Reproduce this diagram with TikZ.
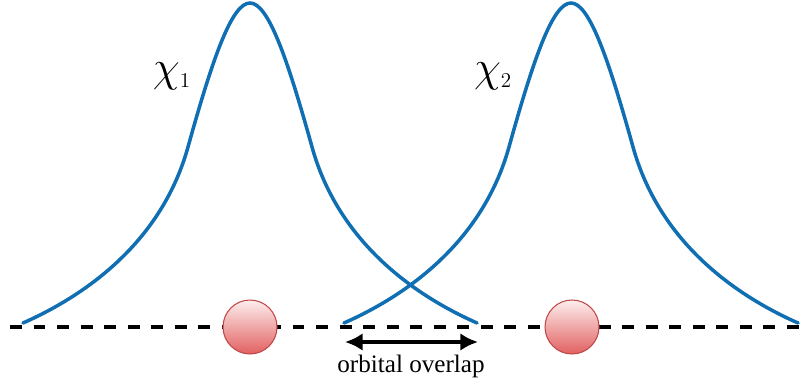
\documentclass[tikz,border=0pt]{standalone}
\usepackage{fontspec}
\setmainfont{Liberation Serif}
\usetikzlibrary{arrows.meta,positioning}
\definecolor{orbblue}{RGB}{16,110,178}
\definecolor{atomtop}{RGB}{253,238,238}
\definecolor{atombot}{RGB}{226,96,96}
\definecolor{atomline}{RGB}{192,72,72}

\begin{document}
\begin{tikzpicture}[x=0.02cm, y=0.02cm,
    orbital/.style={draw=orbblue, line width=2pt, line cap=round},
    atom/.style={circle, draw=atomline, line width=0.6pt, inner sep=0pt,
                 minimum size=1.08cm, top color=atomtop, bottom color=atombot},
    axisline/.style={line width=2.2pt, dash pattern=on 6.8pt off 6.6pt},
    chilabel/.style={font=\fontsize{25}{29}\selectfont}]
    \useasboundingbox (0,-58) rectangle (807,327);

    % axis through the two atoms
    \coordinate (axl) at (10,0);
    \coordinate (axr) at (807,0);
    \draw[axisline] (axl) -- (axr);

    % the two orbitals
    \foreach \c in {250,571}
        \draw[orbital, shift={(\c,0)}] (-227,4)
            .. controls (-157,35) and (-87,90) .. (-62,180)
            .. controls (-37,270) and (-18,324) .. (0,324)
            .. controls (18,324) and (37,270) .. (62,180)
            .. controls (87,90) and (157,35) .. (227,4);

    \node (chi1) [chilabel] at (172,251) {$\chi_{\scriptscriptstyle 1}$};
    \node (chi2) [chilabel] at (493,251) {$\chi_{\scriptscriptstyle 2}$};

    \node (atom1) [atom] at (250,0) {};
    \node (atom2) [atom] at (572,0) {};

    % overlap arrow
    \coordinate (ovl) at (345,-15);
    \coordinate (ovr) at (478,-15);
    \draw[{Latex[length=10pt,width=10pt]}-{Latex[length=10pt,width=10pt]}, line width=2.2pt] (ovl) -- (ovr);
    \node (ovtext) [font=\fontsize{14.3}{17}\selectfont] at (411,-39) {orbital overlap};
\end{tikzpicture}
\end{document}
